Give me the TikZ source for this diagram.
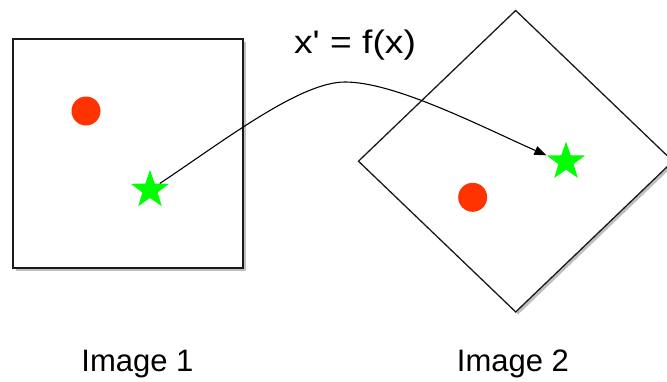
\documentclass[tikz,border=0pt]{standalone}
\usepackage{fontspec}
\setmainfont{Liberation Sans}
\usetikzlibrary{positioning,arrows.meta,shapes.geometric,shadows}
\definecolor{dotred}{HTML}{FF3300}
\definecolor{stargreen}{HTML}{00FF00}
\definecolor{framegray}{HTML}{1A1A1A}
\tikzset{
    every node/.style={font=\fontsize{31}{37}\selectfont},
    boxshadow/.style={drop shadow={shadow xshift=2.5pt,shadow yshift=-2.5pt,fill=black,opacity=0.25}},
    imgframe/.style={rectangle,draw=framegray,line width=1.8pt,fill=white,minimum width=230pt,minimum height=229pt,boxshadow},
    imgdiamond/.style={diamond,draw=framegray,line width=1.3pt,fill=white,inner sep=0pt,minimum width=315pt,minimum height=302pt,boxshadow},
    keydot/.style={circle,fill=dotred,inner sep=0pt,minimum size=29pt},
    keystar/.style={star,star points=5,star point ratio=2.5,fill=stargreen,inner sep=0pt,minimum size=40pt},
    mapping/.style={draw=black,line width=1.1pt,-{Triangle[length=12pt,width=9pt]}}
}

\begin{document}
\begin{tikzpicture}[x=1pt,y=-1pt]
\useasboundingbox (0,0) rectangle (667,381);
% the two images
\node[imgframe] (img1) at (128,153.5) {};
\node[imgdiamond] (img2) at (515.7,161.2) {};
% feature points
\node[keydot] (dot1) at (86,111) {};
\node[keystar] (star1) at (150,190) {};
\node[keydot] (dot2) at (472.7,197.3) {};
\node[keystar] (star2) at (566,161.7) {};
% the mapping
\coordinate (peak) at (345,82);
\draw[mapping] (star1) .. controls (225,140) and (300,82) .. (peak)
    .. controls (395,82) and (480,126) .. (star2.outer point 2);
\node (fx) at (355,53) [anchor=base] {\scalebox{1.2}[1.05]{x\textquotesingle{} = f(x)}};
\node (cap1) at (137.5,371) [anchor=base] {Image 1};
\node (cap2) at (513,371) [anchor=base] {Image 2};
\end{tikzpicture}
\end{document}
